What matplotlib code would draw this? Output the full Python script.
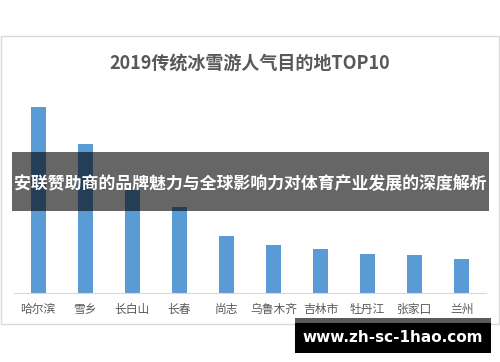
import matplotlib.pyplot as plt
from matplotlib.patches import Rectangle

plt.rcParams['font.family'] = ['Noto Sans CJK SC', 'DejaVu Sans']

cities = ["哈尔滨", "雪乡", "长白山", "长春", "尚志", "乌鲁木齐", "吉林市", "牡丹江", "张家口", "兰州"]
# relative popularity (no axis in source, read as bar heights)
values = [186, 149, 103, 86, 57, 48, 44, 39, 38, 34]

title = "2019传统冰雪游人气目的地TOP10"
banner = "安联赞助商的品牌魅力与全球影响力对体育产业发展的深度解析"
watermark = "www.zh-sc-1hao.com"

W, H = 500, 362
fig = plt.figure(figsize=(W / 100, H / 100), dpi=100)


def fx(px):
    return px / W


def fy(py):
    return 1 - py / H


# chart frame
fig.patches.append(Rectangle((fx(0.5), fy(324)), fx(498.5), (324 - 36) / H,
                             transform=fig.transFigure, fill=False,
                             edgecolor="#d9d9d9", lw=1, zorder=0))

ax = fig.add_axes([fx(14.5), fy(293), fx(471), (293 - 100) / H])
ax.bar(range(len(cities)), values, width=0.32, color="#5b9bd5")
ax.set_xlim(-0.5, len(cities) - 0.5)
ax.set_ylim(0, 193)
ax.set_yticks([])
ax.set_xticks(range(len(cities)))
ax.set_xticklabels(cities, fontsize=8.5, color="#595959")
ax.tick_params(axis="x", length=0, pad=7)
for s in ["top", "right", "left"]:
    ax.spines[s].set_visible(False)
ax.spines["bottom"].set_color("#d9d9d9")
ax.patch.set_alpha(0)

fig.text(0.5, fy(63), title, ha="center", va="center", fontsize=13,
         fontweight="bold", color="#595959")

# overlay banner
fig.patches.append(Rectangle((fx(12), fy(211)), fx(477), (211 - 152) / H,
                             transform=fig.transFigure, facecolor="black",
                             alpha=0.6, edgecolor="none", zorder=5))
fig.text(fx(250), fy(184), banner, ha="center", va="center", fontsize=12.2,
         fontweight="bold", color="white", zorder=6)

# watermark box
fig.patches.append(Rectangle((fx(295), fy(324)), fx(196), 6 / H,
                             transform=fig.transFigure, facecolor="#5a5a5a",
                             edgecolor="none", zorder=5))
fig.patches.append(Rectangle((fx(295), fy(353)), fx(196), (353 - 323) / H,
                             transform=fig.transFigure, facecolor="black",
                             edgecolor="none", zorder=5))
fig.text(fx(393), fy(337), watermark, ha="center", va="center", fontsize=11,
         fontweight="bold", color="white", family="DejaVu Sans", zorder=6)

fig.savefig("out.png", dpi=100)
